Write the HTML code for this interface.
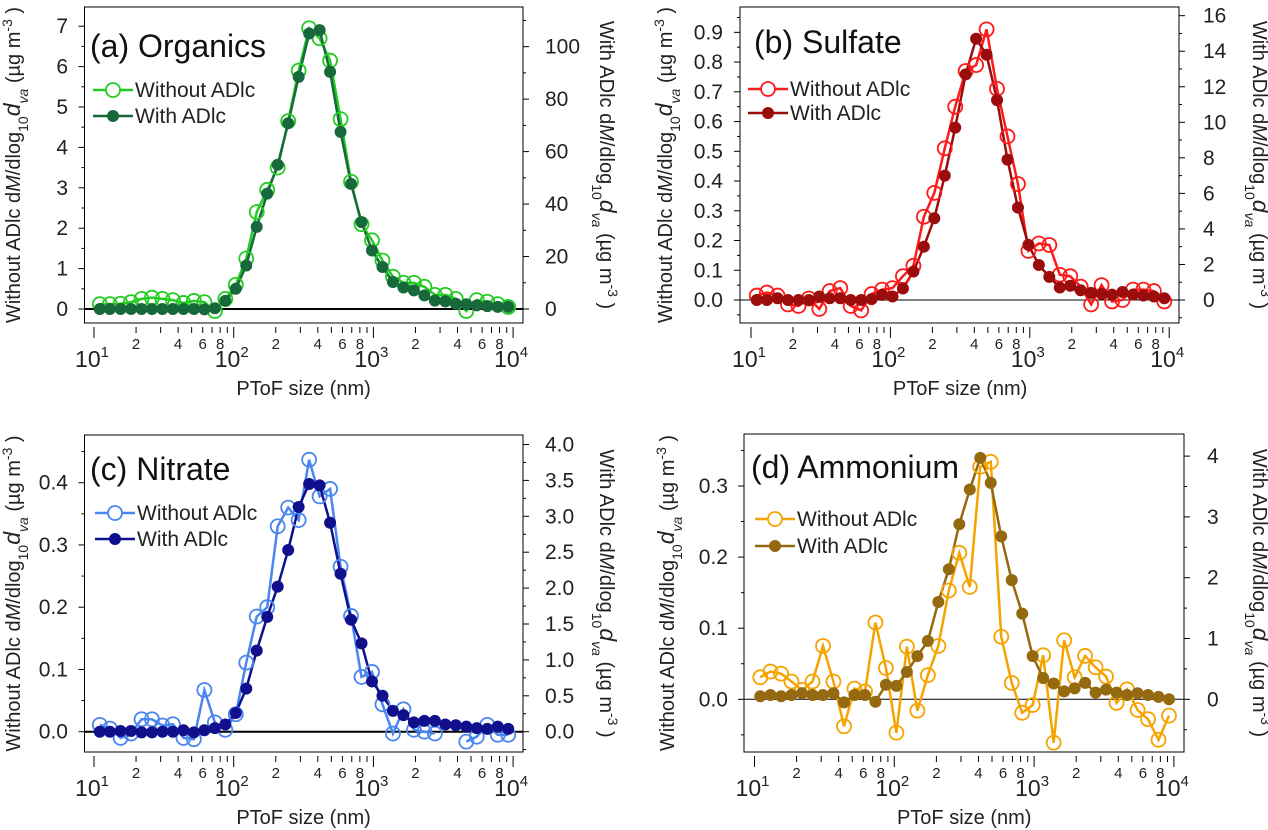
<!DOCTYPE html>
<html><head><meta charset="utf-8"><style>
body{margin:0;background:#fff}
svg{display:block;font-family:"Liberation Sans",Arial,sans-serif}
</style></head><body>
<svg id="chart" width="1268" height="830" viewBox="0 0 1268 830" xmlns="http://www.w3.org/2000/svg"></svg>
<script>
// ---- data ----
const sizes = [11.0,13.0,15.5,18.4,21.9,26.0,30.9,36.7,43.7,51.9,61.7,73.3,87.1,103.5,123.0,146.2,173.8,206.5,245.5,291.7,346.7,412.1,489.8,582.1,691.8,822.2,977.2,1161,1380,1641,1950,2317,2754,3273,3890,4624,5495,6531,7762,9226];
const orgWithout = [0.12,0.12,0.13,0.17,0.25,0.28,0.25,0.22,0.15,0.2,0.17,-0.05,0.25,0.6,1.25,2.4,2.95,3.5,4.65,5.9,6.95,6.7,6.15,4.7,3.15,2.1,1.7,1.2,0.8,0.65,0.65,0.55,0.35,0.35,0.25,-0.05,0.22,0.18,0.12,0.05];
const orgWith = [0,0,0,0,0,0,0,0,0,0,-0.15,0.3,3.1,7.7,16.6,31.3,44,55,70.8,88.5,105,106.3,90.4,67.5,47.7,33.1,22.3,16,10.3,8.2,7.1,5.2,3.2,2.9,2,1.8,1.4,1.1,0.8,0.8];
const so4Without = [0.015,0.025,0.015,-0.015,-0.02,0.005,-0.03,0.03,0.04,-0.02,-0.035,0.02,0.035,0.04,0.08,0.115,0.28,0.36,0.51,0.65,0.77,0.79,0.91,0.71,0.55,0.39,0.165,0.19,0.185,0.085,0.08,0.045,-0.015,0.05,-0.005,0.0,0.035,0.035,0.03,-0.005];
const so4With = [0,0,0.1,0,0,0,0.2,0.1,0.1,0,0,0.05,0.28,0.2,0.65,1.6,3.0,4.6,7.0,9.7,12.7,14.7,13.8,11.25,7.9,5.2,3.1,1.97,1.3,0.7,0.8,0.55,0.4,0.35,0.3,0.45,0.3,0.25,0.2,0.1];
const no3Without = [0.011,0.005,-0.01,-0.003,0.02,0.02,0.01,0.012,-0.01,-0.012,0.067,0.015,0.003,0.028,0.111,0.185,0.2,0.33,0.36,0.34,0.437,0.378,0.39,0.265,0.186,0.088,0.096,0.044,-0.003,0.036,0.003,0.0,-0.003,null,null,-0.016,-0.008,0.011,-0.005,-0.005];
const no3With = [0,0,0.01,0.01,-0.01,-0.01,0,0,0.02,-0.01,0.02,0.05,0.1,0.26,0.6,1.13,1.6,2.02,2.53,3.13,3.45,3.43,2.91,2.2,1.56,1.23,0.7,0.5,0.29,0.23,0.13,0.15,0.15,0.1,0.09,0.07,0.05,0.04,0.07,0.04];
const nh4Without = [0.031,0.039,0.036,0.025,0.013,0.025,0.075,0.025,-0.038,0.015,0.011,0.108,0.044,-0.047,0.074,-0.016,0.034,0.075,0.153,0.206,0.158,0.327,0.334,0.088,0.023,-0.019,-0.008,0.062,-0.061,0.083,0.031,0.061,0.045,0.032,-0.005,0.014,-0.015,-0.028,-0.057,-0.023];
const nh4With = [0.05,0.07,0.05,0.07,0.1,0.07,0.07,0.1,-0.05,0.07,0.07,-0.04,0.24,0.22,0.45,0.71,0.96,1.6,2.14,2.88,3.45,3.97,3.56,2.68,1.96,1.41,0.71,0.35,0.26,0.13,0.18,0.27,0.11,0.16,0.11,0.07,0.1,0.07,0.04,0];
const leftTicksA = [0,1,2,3,4,5,6,7];
const rightTicksA = [0,20,40,60,80,100];
const leftTicksB = [0,0.1,0.2,0.3,0.4,0.5,0.6,0.7,0.8,0.9];
const rightTicksB = [0,2,4,6,8,10,12,14,16];
const leftTicksC = [0,0.1,0.2,0.3,0.4];
const rightTicksC = [0,0.5,1,1.5,2,2.5,3,3.5,4];
const leftTicksD = [0,0.1,0.2,0.3];
const rightTicksD = [0,1,2,3,4];

const NS="http://www.w3.org/2000/svg";
const svg=document.getElementById('chart');
function mk(tag,attrs,parent){const e=document.createElementNS(NS,tag);for(const k in attrs)e.setAttribute(k,attrs[k]);(parent||svg).appendChild(e);return e;}

const panels=[
 {key:'organics',title:'(a) Organics',fx0:84.5,fx1:523,fy0:7,fy1:323,xd1:94,xdp:139.7,y0:309,ppu:40.4,rppu:40.4/15.4,
  lt:leftTicksA,lminor:0.5,ldec:0,rt:rightTicksA,rminor:10,rdec:0,wo:orgWithout,wi:orgWith,c1:'#22cc22',c2:'#17683a',zw:2,
  tx:90,ty:57,lgx:93,lgy:90,lgy2:116,ltx:68,rtx:545,ytl:20,ytr:600},
 {key:'sulfate',title:'(b) Sulfate',fx0:740,fx1:1179,fy0:7,fy1:323,xd1:751,xdp:139.4,y0:300,ppu:297.4,rppu:17.77,
  lt:leftTicksB,lminor:0.05,ldec:1,rt:rightTicksB,rminor:1,rdec:0,wo:so4Without,wi:so4With,c1:'#ff1a1a',c2:'#9b0d0d',zw:1,
  tx:754,ty:53,lgx:748,lgy:89,lgy2:113,ltx:723,rtx:1203,ytl:672,ytr:1253},
 {key:'nitrate',title:'(c) Nitrate',fx0:84.5,fx1:523,fy0:435,fy1:752,xd1:94,xdp:139.7,y0:731.7,ppu:622.5,rppu:71.8,
  lt:leftTicksC,lminor:0.05,ldec:1,rt:rightTicksC,rminor:0.25,rdec:1,wo:no3Without,wi:no3With,c1:'#4a86ef',c2:'#10108c',zw:2,
  tx:90,ty:480,lgx:95,lgy:513,lgy2:539,ltx:68,rtx:545,ytl:20,ytr:600},
 {key:'ammonium',title:'(d) Ammonium',fx0:744,fx1:1184,fy0:434,fy1:752,xd1:754.5,xdp:139.8,y0:699.3,ppu:711,rppu:60.8,
  lt:leftTicksD,lminor:0.05,ldec:1,rt:rightTicksD,rminor:0.5,rdec:0,wo:nh4Without,wi:nh4With,c1:'#f5a300',c2:'#94690f',zw:1,
  tx:751,ty:478,lgx:755,lgy:519,lgy2:546,ltx:728,rtx:1207,ytl:674,ytr:1253}
];

function yTitle(g,x,yc,rot,withPrefix){
  const t=mk('text',{x:0,y:0,'font-size':20,'text-anchor':'middle',fill:'#222',transform:`translate(${x},${yc}) rotate(${rot})`},g);
  const parts=[[withPrefix+' d',{}],['M',{'font-style':'italic'}],['/dlog',{}],['10',{'font-size':14,'baseline-shift':'sub'}],
   ['d',{'font-style':'italic','font-size':23}],['va',{'font-style':'italic','font-size':14,'baseline-shift':'sub'}],[' (\u00b5g m',{}],['-3',{'font-size':14,'baseline-shift':'super'}],[' )',{}]];
  parts.forEach(p=>{const s=mk('tspan',p[1],t);s.textContent=p[0];});
  return t;
}

panels.forEach(P=>{
  const g=mk('g',{});
  
  
  const X=v=>P.xd1+(Math.log10(v)-1)*P.xdp;
  const YL=v=>P.y0-v*P.ppu;
  const YR=v=>P.y0-v*P.rppu;
  const fr=mk('rect',{x:P.fx0,y:P.fy0,width:P.fx1-P.fx0,height:P.fy1-P.fy0,fill:'none',stroke:'#000','stroke-width':1},g);
  
  
  const z=mk('line',{x1:P.fx0,x2:P.fx1,y1:YL(0),y2:YL(0),stroke:'#000','stroke-width':P.zw},g);
  
  
  const lmin=(P.y0-P.fy1)/P.ppu, lmax=(P.y0-P.fy0)/P.ppu;
  for(let v=Math.ceil(lmin/P.lminor-1e-6)*P.lminor; v<=lmax+1e-9; v+=P.lminor){
    const major=Math.abs(v/(P.lminor*2)-Math.round(v/(P.lminor*2)))<1e-6;
    mk('line',{x1:P.fx0,x2:P.fx0-(major?6:3),y1:YL(v),y2:YL(v),stroke:'#000'},g);
  }
  P.lt.forEach(v=>{const t=mk('text',{x:P.ltx,y:YL(v)+7,'font-size':21,'text-anchor':'end',fill:'#222'},g);t.textContent=v.toFixed(P.ldec);
    
    });
  const rmin=(P.y0-P.fy1)/P.rppu, rmax=(P.y0-P.fy0)/P.rppu;
  for(let v=Math.ceil(rmin/P.rminor-1e-6)*P.rminor; v<=rmax+1e-9; v+=P.rminor){
    const major=Math.abs(v/(P.rminor*2)-Math.round(v/(P.rminor*2)))<1e-6;
    mk('line',{x1:P.fx1,x2:P.fx1+(major?6:3),y1:YR(v),y2:YR(v),stroke:'#000'},g);
  }
  P.rt.forEach(v=>{const t=mk('text',{x:P.rtx,y:YR(v)+7,'font-size':21,'text-anchor':'start',fill:'#222'},g);t.textContent=v.toFixed(P.rdec);
    
    });
  const ty=P.fy1+4;
  for(let d=1;d<=4;d++){
    mk('line',{x1:X(10**d),x2:X(10**d),y1:ty,y2:ty+11,stroke:'#000'},g);
    const t=mk('text',{x:X(10**d)-2,y:ty+40,'font-size':23,'text-anchor':'middle',fill:'#222'},g);
    
    
    const a=mk('tspan',{},t);a.textContent='10';
    const b=mk('tspan',{'font-size':15,dy:-10},t);b.textContent=String(d);
    if(d<4)for(let m=2;m<=9;m++){
      const xv=X(m*10**d);
      mk('line',{x1:xv,x2:xv,y1:ty,y2:ty+6,stroke:'#000'},g);
      if(m%2===0){const l=mk('text',{x:xv,y:ty+22,'font-size':15,'text-anchor':'middle',fill:'#222'},g);l.textContent=String(m);}
    }
  }
  const xt=mk('text',{x:(X(10)+X(10000))/2,y:P.fy1+72,'font-size':20,'text-anchor':'middle',fill:'#222'},g);
  xt.textContent='PToF size (nm)';
  
  
  const yc=(P.fy0+P.fy1)/2;
  const lt=yTitle(g,P.ytl,yc,-90,'Without ADlc');
  
  
  const rtt=yTitle(g,P.ytr,yc,90,'With ADlc');
  
  
  let segs=[],cur=[];
  P.wo.forEach((v,i)=>{if(v===null){if(cur.length)segs.push(cur);cur=[];}else cur.push([X(sizes[i]),YL(v)]);});
  if(cur.length)segs.push(cur);
  segs.forEach(s=>{const pl=mk('polyline',{points:s.map(p=>p.join(',')).join(' '),fill:'none',stroke:P.c1,'stroke-width':2.5},g);
    
    });
  const wl=mk('polyline',{points:P.wi.map((v,i)=>X(sizes[i])+','+YR(v)).join(' '),fill:'none',stroke:P.c2,'stroke-width':2.5},g);
  
  
  P.wo.forEach((v,i)=>{if(v===null)return;const c=mk('circle',{cx:X(sizes[i]),cy:YL(v),r:7,fill:'none',stroke:P.c1,'stroke-width':1.8},g);
    
    });
  P.wi.forEach((v,i)=>{const c=mk('circle',{cx:X(sizes[i]),cy:YR(v),r:6,fill:P.c2},g);
    
    });
  const tt=mk('text',{x:P.tx,y:P.ty,'font-size':32,fill:'#111'},g);tt.textContent=P.title;
  
  
  [[P.lgy,'Without ADlc',P.c1,false],[P.lgy2,'With ADlc',P.c2,true]].forEach(L=>{
    const lg=mk('g',{},g);
    
    
    mk('line',{x1:P.lgx,x2:P.lgx+40,y1:L[0],y2:L[0],stroke:L[2],'stroke-width':2.5},lg);
    if(L[3])mk('circle',{cx:P.lgx+20,cy:L[0],r:6,fill:L[2]},lg);
    else mk('circle',{cx:P.lgx+20,cy:L[0],r:7,fill:'#fff',stroke:L[2],'stroke-width':1.8},lg);
    const t=mk('text',{x:P.lgx+42,y:L[0]+7,'font-size':21,fill:'#222'},lg);t.textContent=L[1];
  });
});
</script>
</body></html>
